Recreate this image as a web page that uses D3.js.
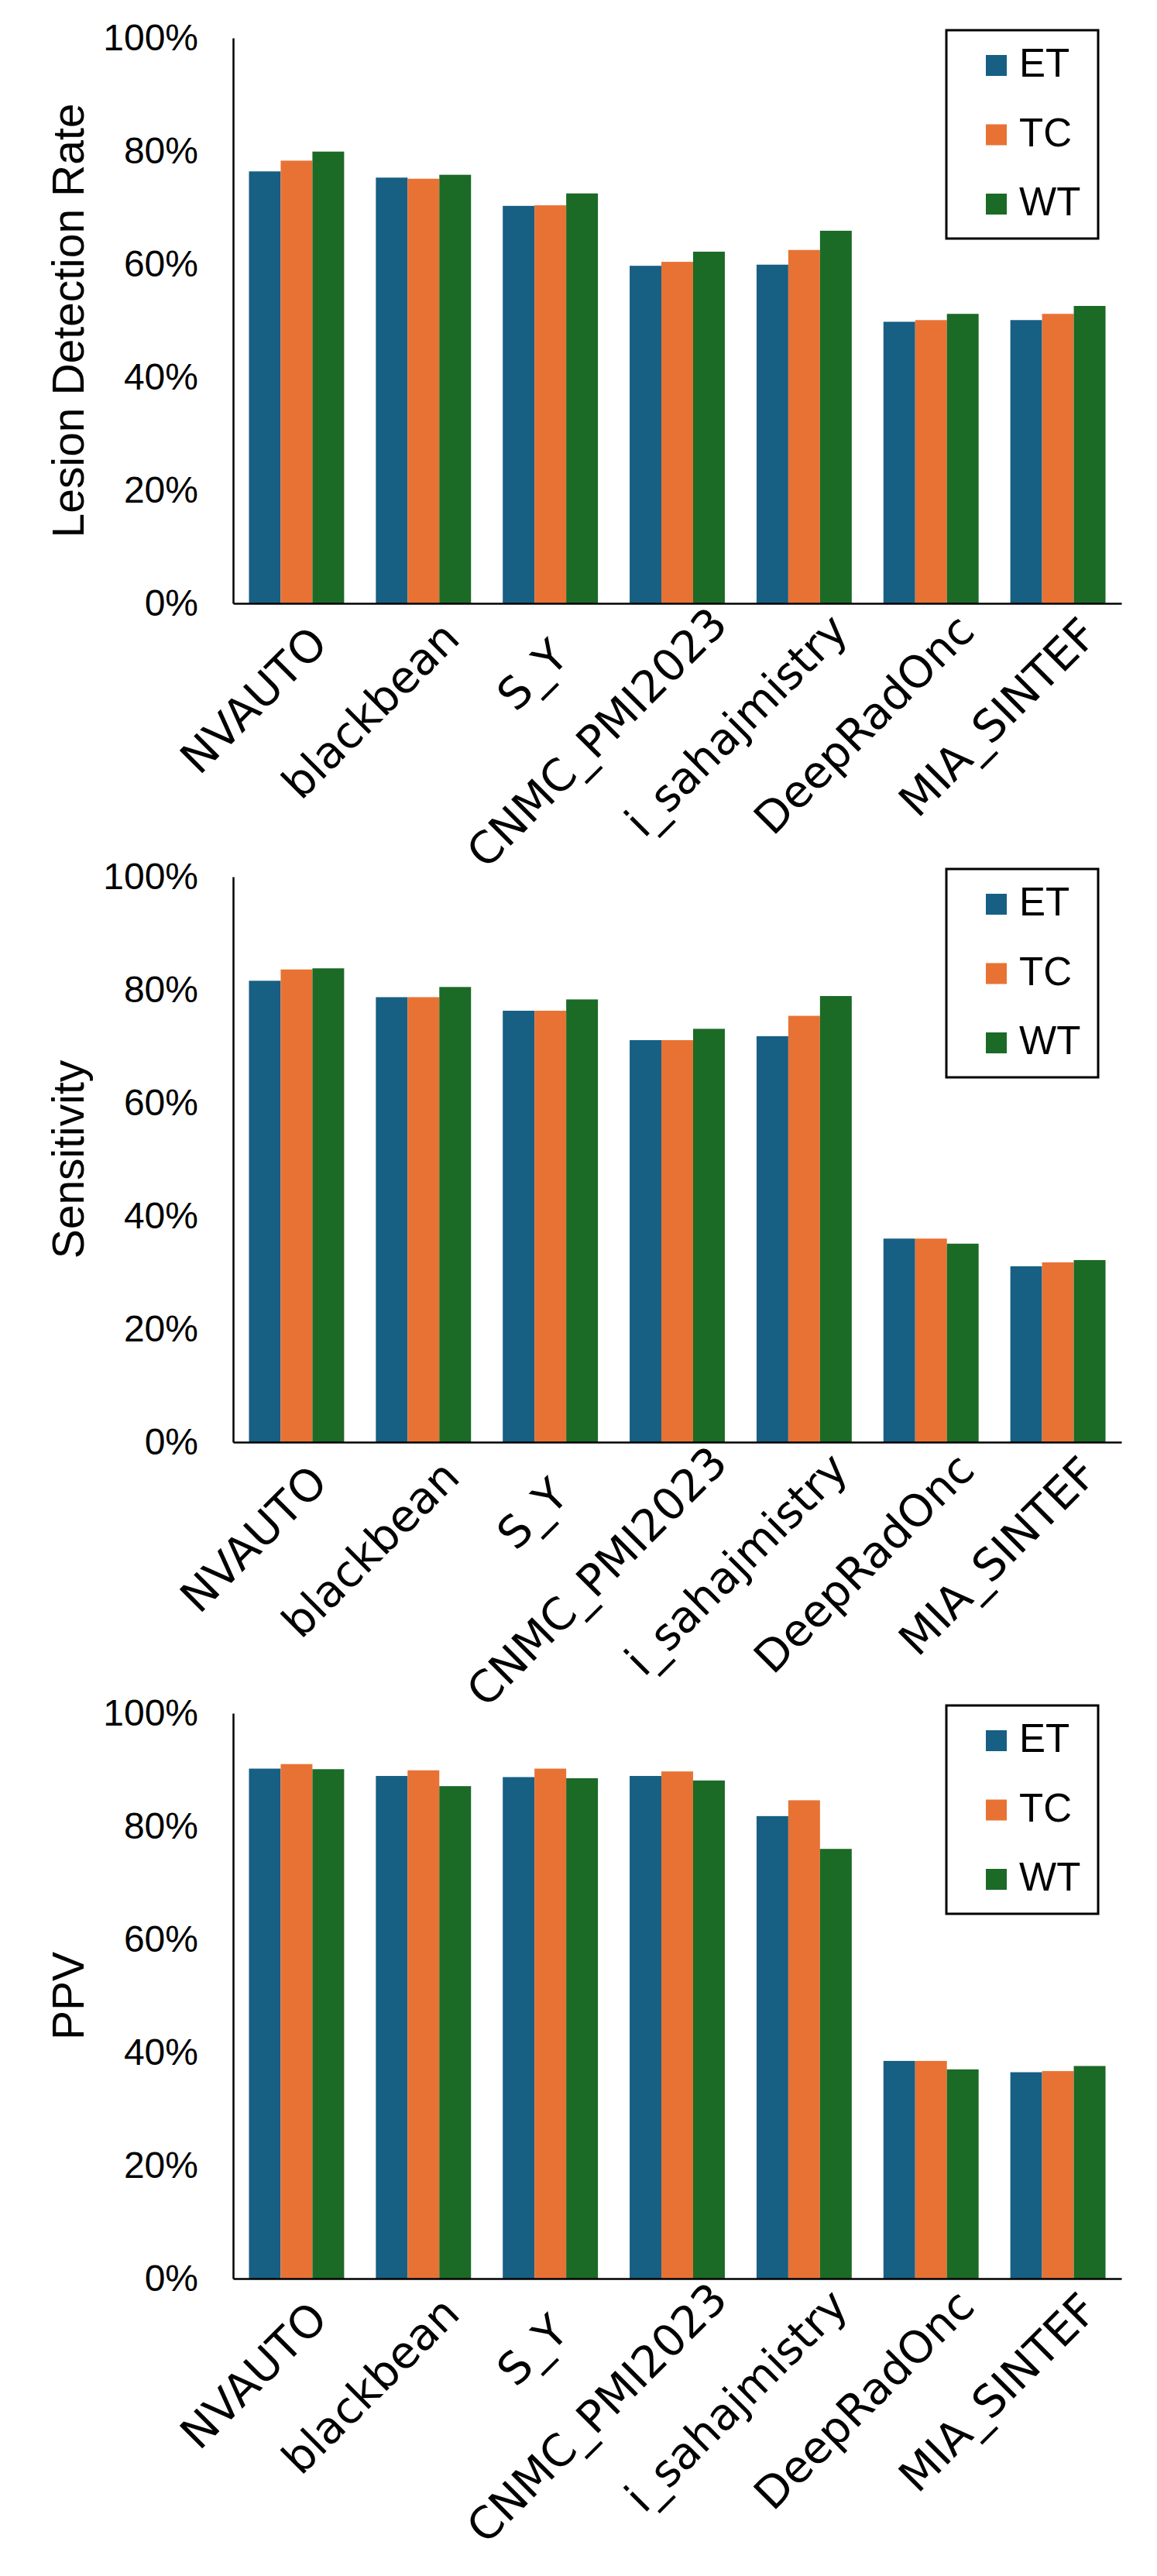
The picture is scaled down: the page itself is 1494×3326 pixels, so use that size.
<html>
<head>
<script src="https://d3js.org/d3.v7.min.js"></script>
<style>
body { margin: 0; background: white; }
</style>
</head>
<body>
<script>
// teams on the x axis
var teams = ["NVAUTO", "blackbean", "S_Y", "CNMC_PMI2023", "i_sahajmistry", "DeepRadOnc", "MIA_SINTEF"];
var regions = ["ET", "TC", "WT"];
var yTicks = [0, 0.2, 0.4, 0.6, 0.8, 1.0];

// lesion detection rate (%)
var ldrET = [76.4, 75.3, 70.3, 59.7, 59.9, 49.8, 50.1];
var ldrTC = [78.3, 75.1, 70.4, 60.4, 62.5, 50.1, 51.2];
var ldrWT = [79.9, 75.8, 72.5, 62.2, 65.9, 51.2, 52.6];

// sensitivity (%)
var senET = [81.6, 78.7, 76.3, 71.1, 71.8, 36.0, 31.1];
var senTC = [83.6, 78.7, 76.3, 71.1, 75.4, 36.0, 31.8];
var senWT = [83.8, 80.5, 78.3, 73.1, 78.9, 35.1, 32.2];

// PPV (%)
var ppvET = [90.2, 88.9, 88.7, 88.9, 81.8, 38.5, 36.5];
var ppvTC = [91.0, 89.9, 90.2, 89.7, 84.6, 38.5, 36.7];
var ppvWT = [90.1, 87.1, 88.5, 88.1, 76.0, 37.0, 37.6];

var panels = [
	{title: "Lesion Detection Rate", series: [ldrET, ldrTC, ldrWT], top: 49},
	{title: "Sensitivity", series: [senET, senTC, senWT], top: 1132},
	{title: "PPV", series: [ppvET, ppvTC, ppvWT], top: 2212}
];

var colors = {ET: "#175f83", TC: "#e87234", WT: "#1b6a26"};

var width = 1494;
var height = 3326;
var left = 301, right = 1448, plotH = 730;

var svg = d3.select("body")
	.append("svg")
	.attr("width", width)
	.attr("height", height);

var x0 = d3.scaleBand().domain(teams).range([left, right]).paddingInner(0.25).paddingOuter(0.125);
var x1 = d3.scaleBand().domain(regions).range([0, x0.bandwidth()]);

panels.forEach(function(p) {
	var g = svg.append("g");
	var y = d3.scaleLinear().domain([0, 1]).range([p.top + plotH, p.top]);

	// bars
	regions.forEach(function(r, ri) {
		g.selectAll(".bar-" + r)
			.data(p.series[ri])
			.enter()
			.append("rect")
			.attr("x", function(d, i) { return x0(teams[i]) + x1(r); })
			.attr("width", x1.bandwidth())
			.attr("y", function(d) { return y(d / 100); })
			.attr("height", function(d) { return y(0) - y(d / 100); })
			.attr("fill", colors[r]);
	});

	// y axis
	var yAxis = d3.axisLeft(y).tickValues(yTicks).tickSize(0).tickPadding(45)
		.tickFormat(function(d) { return Math.round(d * 100) + "%"; });
	var ya = g.append("g").attr("transform", "translate(" + left + ",0)").call(yAxis);
	ya.select(".domain").attr("stroke", "#000").attr("stroke-width", 2.5);
	ya.selectAll("text")
		.attr("font-family", "'Liberation Sans', Arial, sans-serif")
		.attr("font-size", 48)
		.attr("fill", "#000");

	// x axis
	var xAxis = d3.axisBottom(x0).tickSize(0).tickFormat("");
	var xa = g.append("g").attr("transform", "translate(0," + (p.top + plotH) + ")").call(xAxis);
	xa.select(".domain").attr("stroke", "#000").attr("stroke-width", 2.5);

	// rotated team labels; longer names sit a bit further along the baseline
	g.selectAll(".team")
		.data(teams)
		.enter()
		.append("text")
		.attr("class", "team")
		.attr("transform", function(d) {
			var tx = x0(d) + x1("WT") + x1.bandwidth() / 2 + 28.3;
			var ty = p.top + plotH + 28.3;
			return "translate(" + tx + "," + ty + ") rotate(-45)";
		})
		.attr("text-anchor", "end")
		.attr("font-family", "'DejaVu Sans', sans-serif")
		.attr("font-size", 57)
		.text(function(d) { return d; })
		.each(function() {
			var w = this.getComputedTextLength();
			d3.select(this).attr("x", 0.17 * w - 78);
		});

	// y title
	g.append("text")
		.attr("transform", "translate(108," + (p.top + plotH / 2) + ") rotate(-90)")
		.attr("text-anchor", "middle")
		.attr("font-family", "'Liberation Sans', Arial, sans-serif")
		.attr("font-size", 57)
		.text(p.title);

	// legend
	var lg = g.append("g");
	lg.append("rect")
		.attr("x", 1222).attr("y", p.top - 10)
		.attr("width", 196).attr("height", 269)
		.attr("fill", "white").attr("stroke", "#000").attr("stroke-width", 3);
	regions.forEach(function(r, i) {
		var ry = p.top + 22 + i * 89.5;
		lg.append("rect")
			.attr("x", 1273).attr("y", ry)
			.attr("width", 27).attr("height", 27)
			.attr("fill", colors[r]);
		lg.append("text")
			.attr("x", 1316).attr("y", ry + 28)
			.attr("font-family", "'Liberation Sans', Arial, sans-serif")
			.attr("font-size", 51)
			.text(r);
	});
});
</script>
</body>
</html>
